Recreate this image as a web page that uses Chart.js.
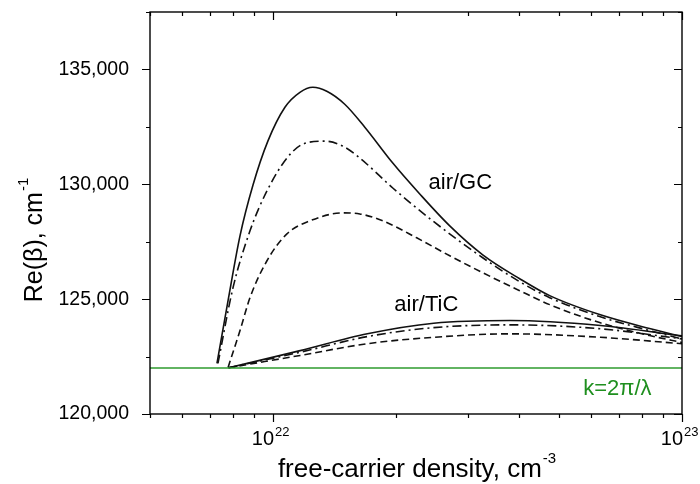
<!DOCTYPE html>
<html>
<head>
<meta charset="utf-8">
<script src="https://cdn.jsdelivr.net/npm/chart.js@4.4.1/dist/chart.umd.min.js"></script>
<style>
  body { margin: 0; background: #fff; }
  canvas { display: block; }
</style>
</head>
<body>
<canvas id="chart" width="700" height="484"></canvas>
<script>
// air/GC curves (x: free-carrier density, cm^-3 ; y: Re(beta), cm^-1)
const gcSolidX = [7.29e21, 7.76e21, 8.30e21, 8.93e21, 9.71e21, 1.069e22, 1.163e22, 1.251e22, 1.353e22, 1.497e22, 1.676e22, 1.962e22, 2.284e22, 2.704e22, 3.256e22, 4.009e22, 4.747e22, 6.288e22, 8.33e22, 1e23];
const gcSolidY = [122200, 124935, 127756, 129969, 131879, 133354, 134005, 134222, 134049, 133484, 132486, 130924, 129578, 128190, 126931, 125889, 125152, 124327, 123719, 123372];

const gcDashDotX = [7.33e21, 7.98e21, 8.78e21, 9.66e21, 1.081e22, 1.183e22, 1.338e22, 1.481e22, 1.630e22, 1.962e22, 2.457e22, 3.256e22, 4.009e22, 4.747e22, 6.288e22, 8.33e22, 1e23];
const gcDashDotY = [122200, 125499, 127973, 129709, 131141, 131748, 131879, 131662, 131141, 129839, 128407, 126801, 125759, 125065, 124240, 123633, 123264];

const gcDashedX = [7.76e21, 8.30e21, 8.78e21, 9.66e21, 1.081e22, 1.230e22, 1.481e22, 1.630e22, 1.855e22, 2.245e22, 2.704e22, 3.256e22, 4.009e22, 4.747e22, 6.288e22, 8.33e22, 1e23];
const gcDashedY = [122027, 123633, 125065, 126671, 127842, 128407, 128754, 128710, 128407, 127669, 126888, 126150, 125369, 124761, 123980, 123416, 123112];

// air/TiC curves
const ticX = [7.78e21, 1.165e22, 1.7e22, 2.47e22, 3.8e22, 6.32e22, 1e23];
const ticSolidY = [122010, 122760, 123490, 123950, 124070, 123850, 123400];
const ticDashDotY = [122010, 122690, 123370, 123760, 123880, 123710, 123270];
const ticDashedY = [122010, 122550, 123060, 123340, 123490, 123340, 123060];

// vacuum wavenumber k = 2*pi/lambda
const kX = [5e21, 1e23];
const kY = [122000, 122000];

// axis ticks
const xTicks = [5e21, 6e21, 7e21, 8e21, 9e21, 1e22, 2e22, 3e22, 4e22, 5e22, 6e22, 7e22, 8e22, 9e22, 1e23];
const xMajor = [1e22, 1e23];
const xMajorLabels = ['22', '23'];
const yTicks = [120000, 122500, 125000, 127500, 130000, 132500, 135000, 137500];

const FONT = "'Liberation Sans', Arial, sans-serif";

function pts(xs, ys) {
    return xs.map((v, i) => ({ x: v, y: ys[i] }));
}

function fmt(v) {
    return String(v).replace(/\B(?=(\d{3})+(?!\d))/g, ',');
}

// text with superscript, drawn left to right starting at x
function supText(ctx, base, sup, x, y, size, supSize, rise) {
    ctx.font = size + 'px ' + FONT;
    ctx.fillText(base, x, y);
    const w = ctx.measureText(base).width;
    ctx.font = supSize + 'px ' + FONT;
    ctx.fillText(sup, x + w + 1, y - rise);
}

function supWidth(ctx, base, sup, size, supSize) {
    ctx.font = size + 'px ' + FONT;
    const w = ctx.measureText(base).width;
    ctx.font = supSize + 'px ' + FONT;
    return w + 1 + ctx.measureText(sup).width;
}

const axisDecor = {
    id: 'axisDecor',
    afterDraw(chart) {
        const { ctx, chartArea: a, scales: { x, y } } = chart;
        ctx.save();
        ctx.strokeStyle = '#000';
        ctx.lineWidth = 1.4;
        ctx.strokeRect(a.left, a.top, a.right - a.left, a.bottom - a.top);

        ctx.lineWidth = 1.2;
        ctx.beginPath();
        yTicks.forEach(v => {
            const p = Math.round(y.getPixelForValue(v)) + 0.5;
            const len = v % 5000 === 0 ? 8 : 4;
            ctx.moveTo(a.left - len, p); ctx.lineTo(a.left, p);
            ctx.moveTo(a.right, p); ctx.lineTo(a.right - len, p);
        });
        xTicks.forEach(v => {
            const p = Math.round(x.getPixelForValue(v)) + 0.5;
            const len = xMajor.includes(v) ? 8 : 4;
            ctx.moveTo(p, a.bottom); ctx.lineTo(p, a.bottom + len);
            ctx.moveTo(p, a.top); ctx.lineTo(p, a.top + len);
        });
        ctx.stroke();

        ctx.fillStyle = '#000';
        ctx.textBaseline = 'alphabetic';
        ctx.textAlign = 'left';

        // x tick labels 10^22, 10^23
        xMajor.forEach((v, i) => {
            const p = x.getPixelForValue(v);
            ctx.font = '20px ' + FONT;
            const w = ctx.measureText('10').width;
            supText(ctx, '10', xMajorLabels[i], p - w + 1, 445, 20, 13, 9);
        });

        // axis titles
        const xw = supWidth(ctx, 'free-carrier density, cm', '-3', 26, 15);
        supText(ctx, 'free-carrier density, cm', '-3', 417 - xw / 2, 477, 26, 15, 14);

        ctx.save();
        ctx.translate(42, 240);
        ctx.rotate(-Math.PI / 2);
        const yw = supWidth(ctx, 'Re(β), cm', '-1', 25, 15);
        supText(ctx, 'Re(β), cm', '-1', -yw / 2, 0, 25, 15, 14);
        ctx.restore();

        // curve annotations
        ctx.textAlign = 'center';
        ctx.textBaseline = 'middle';
        ctx.font = '22px ' + FONT;
        ctx.fillText('air/GC', x.getPixelForValue(2.87e22), y.getPixelForValue(130050));
        ctx.fillText('air/TiC', x.getPixelForValue(2.37e22), y.getPixelForValue(124760));
        ctx.fillStyle = '#1f8f1f';
        ctx.fillText('k=2π/λ', x.getPixelForValue(6.95e22), y.getPixelForValue(121100));
        ctx.restore();
    }
};

const line = (data, dash, color, width) => ({
    data,
    borderColor: color || '#111',
    borderWidth: width || 1.6,
    borderDash: dash || [],
    pointRadius: 0,
    fill: false,
    cubicInterpolationMode: 'monotone'
});

const ctx = document.getElementById('chart').getContext('2d');
new Chart(ctx, {
    type: 'line',
    data: {
        datasets: [
            line(pts(kX, kY), [], '#2e9b2e', 1.5),
            line(pts(gcSolidX, gcSolidY)),
            line(pts(gcDashDotX, gcDashDotY), [9, 4, 2, 4]),
            line(pts(gcDashedX, gcDashedY), [7, 4]),
            line(pts(ticX, ticSolidY)),
            line(pts(ticX, ticDashDotY), [9, 4, 2, 4]),
            line(pts(ticX, ticDashedY), [7, 4])
        ]
    },
    options: {
        responsive: false,
        animation: false,
        layout: { padding: { left: 0, top: 12, right: 18, bottom: 0 } },
        plugins: {
            legend: { display: false },
            tooltip: { enabled: false }
        },
        scales: {
            x: {
                type: 'logarithmic',
                min: 5e21,
                max: 1e23,
                grid: { display: false },
                border: { display: false },
                ticks: { display: false },
                afterFit(s) { s.height = 70; s.paddingLeft = 0; s.paddingRight = 0; }
            },
            y: {
                min: 120000,
                max: 137500,
                grid: { display: false },
                border: { display: false },
                afterBuildTicks(s) { s.ticks = yTicks.map(v => ({ value: v })); },
                ticks: {
                    color: '#000',
                    padding: 13,
                    font: { family: FONT, size: 19.5 },
                    callback: v => (v % 5000 === 0 ? fmt(v) : '')
                },
                afterFit(s) { s.width = 150; s.paddingTop = 0; s.paddingBottom = 0; }
            }
        }
    },
    plugins: [axisDecor]
});
</script>
</body>
</html>
